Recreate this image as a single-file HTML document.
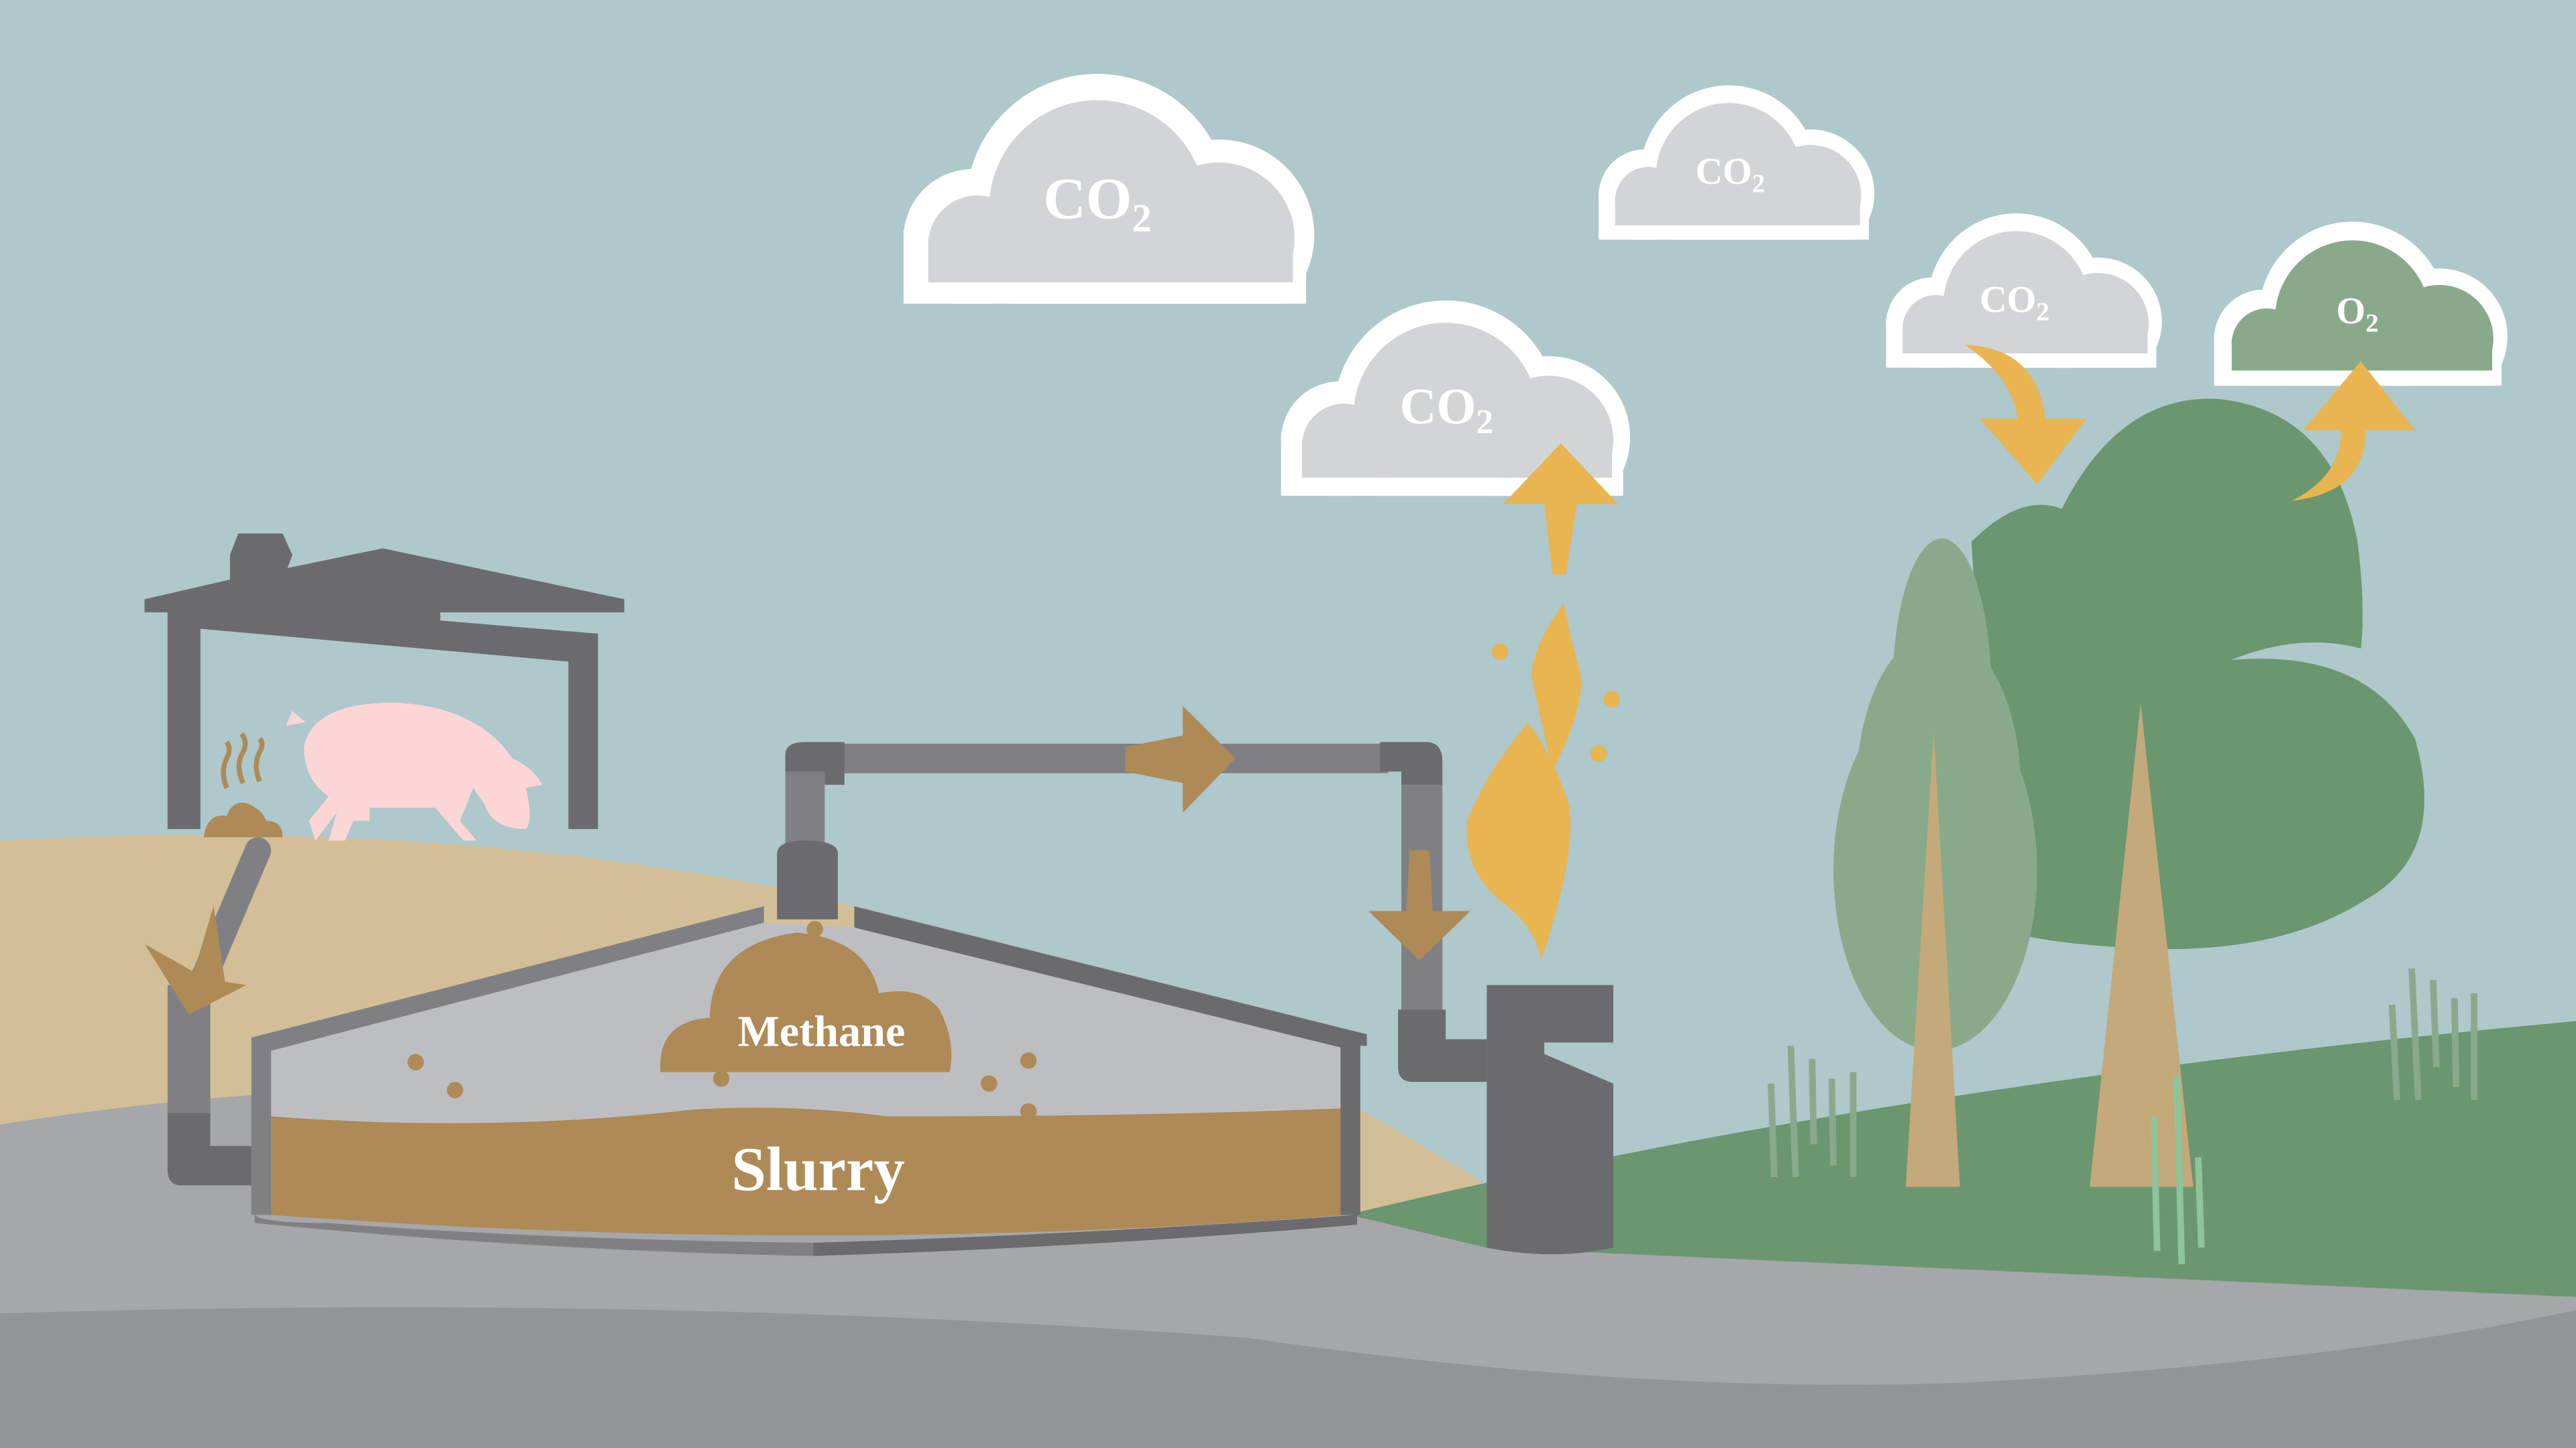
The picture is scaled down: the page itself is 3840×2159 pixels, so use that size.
<!DOCTYPE html>
<html><head><meta charset="utf-8">
<style>
html,body{margin:0;padding:0;background:#aec8cb;overflow:hidden}
svg{display:block}
.t{font-family:"Liberation Serif",serif;font-weight:bold;fill:#fff}
</style></head>
<body>
<svg width="3840" height="2159" viewBox="0 0 1568 882" preserveAspectRatio="none" xmlns="http://www.w3.org/2000/svg">
<defs>
<clipPath id="cc"><rect x="-10" y="-10" width="270" height="150"/></clipPath>
<clipPath id="ci"><rect x="0" y="0" width="250" height="127"/></clipPath>
<symbol id="cl" viewBox="0 0 250 140" overflow="visible">
 <g clip-path="url(#cc)" fill="#fff">
  <circle cx="42" cy="100" r="42"/><circle cx="118" cy="80" r="80"/><circle cx="192" cy="98" r="58"/>
  <rect x="0" y="95" width="245" height="45"/>
 </g>
 <g fill="currentColor" clip-path="url(#ci)">
  <circle cx="45" cy="104" r="30"/><circle cx="118" cy="82" r="66"/><circle cx="192" cy="100" r="46"/>
  <rect x="15" y="100" width="222" height="28"/>
 </g>
</symbol>
</defs>
<rect width="1568" height="882" fill="#aec8cb"/>
<path d="M0 512 Q250 498 470 540 Q700 590 910 725 L910 882 L0 882Z" fill="#d2bf98"/>
<path d="M820 740 Q1150 660 1568 622 L1568 882 L820 882Z" fill="#6a9670"/>
<path d="M0 685 Q250 645 500 675 L830 742 L905 760 L1568 790 L1568 882 L0 882Z" fill="#a6a7ab"/>
<path d="M0 800 Q400 788 760 815 Q1000 850 1200 842 Q1420 830 1568 798 L1568 882 L0 882Z" fill="#939498"/>

<use href="#cl" x="548" y="45" width="254" height="140" style="color:#d3d4d6"/>
<use href="#cl" x="972" y="52" width="170" height="94" style="color:#d3d4d6"/>
<use href="#cl" x="776" y="183" width="220" height="119" style="color:#d3d4d6"/>
<use href="#cl" x="1146" y="130" width="172" height="94" style="color:#d3d4d6"/>
<use href="#cl" x="1346" y="135" width="182" height="100" style="color:#89aa8a"/>
<text class="t" x="635" y="133" font-size="36">CO<tspan font-size="24" dy="8">2</tspan></text>
<text class="t" x="1032" y="112" font-size="23">CO<tspan font-size="16" dy="5">2</tspan></text>
<text class="t" x="852" y="258" font-size="31">CO<tspan font-size="21" dy="6">2</tspan></text>
<text class="t" x="1205" y="190" font-size="23">CO<tspan font-size="16" dy="5">2</tspan></text>
<text class="t" x="1422" y="197" font-size="23">O<tspan font-size="16" dy="5">2</tspan></text>

<path d="M1200 330 Q1230 300 1255 310 Q1290 240 1350 243 Q1420 250 1435 330 Q1440 370 1437 395 Q1400 385 1358 402 Q1440 395 1470 450 Q1490 520 1440 548 Q1390 580 1310 578 Q1240 575 1215 565 Z" fill="#6a9670"/>
<ellipse cx="1182" cy="420" rx="30" ry="92" fill="#89aa8a"/>
<ellipse cx="1180" cy="480" rx="50" ry="95" fill="#89aa8a"/>
<ellipse cx="1178" cy="530" rx="62" ry="110" fill="#89aa8a"/>
<ellipse cx="1178" cy="550" rx="50" ry="90" fill="#89aa8a"/>
<polygon points="1160,723 1177,445 1193,723" fill="#c4a97a"/>
<polygon points="1272,723 1303,428 1335,723" fill="#c4a97a"/>
<g stroke="#89aa8a" stroke-width="4">
<line x1="1078" y1="660" x2="1080" y2="717"/><line x1="1090" y1="637" x2="1093" y2="717"/><line x1="1103" y1="645" x2="1104" y2="697"/><line x1="1115" y1="657" x2="1116" y2="710"/><line x1="1128" y1="653" x2="1128" y2="717"/>
<line x1="1456" y1="612" x2="1459" y2="670"/><line x1="1468" y1="590" x2="1472" y2="670"/><line x1="1481" y1="597" x2="1483" y2="650"/><line x1="1494" y1="608" x2="1495" y2="662"/><line x1="1506" y1="605" x2="1506" y2="670"/>
</g>
<g stroke="#8fc499" stroke-width="4">
<line x1="1311" y1="680" x2="1313" y2="762"/><line x1="1325" y1="655" x2="1328" y2="770"/><line x1="1338" y1="705" x2="1340" y2="760"/>
</g>

<path d="M1196 210 Q1240 212 1245 255 L1270 255 L1240 295 L1205 255 L1228 255 Q1225 230 1196 210Z" fill="#e8b551"/>
<path d="M1395 305 Q1440 300 1440 262 L1470 262 L1437 220 L1402 262 L1425 262 Q1425 290 1395 305Z" fill="#e8b551"/>

<polygon points="88,365 140,353 140,338 145,325 172,325 178,338 175,346 233,334 380,365 380,373 268,373 268,378 364,386 364,505 346,505 346,403 122,383 122,505 102,505 102,373 88,373" fill="#6b6b6f"/>
<g fill="#fcd5d6">
<path d="M185 455 Q190 428 240 428 Q290 430 312 462 Q325 468 330 478 L320 480 Q325 500 320 505 Q300 505 295 490 L288 480 L280 500 L290 512 L282 512 L265 492 L225 492 L225 500 L215 500 L210 512 L200 512 L205 495 L192 512 L188 500 L200 485 Q185 475 185 455Z"/>
<path d="M178 433 L186 440 L174 442Z"/>
</g>
<path d="M124 510 Q126 495 138 497 Q142 486 152 490 Q160 494 162 500 Q172 500 172 510Z" fill="#ae8a57"/>
<g stroke="#ae8a57" stroke-width="3" fill="none">
<path d="M138 480 Q134 470 138 462 Q141 456 138 452"/>
<path d="M148 477 Q143 466 148 458 Q151 452 147 447"/>
<path d="M158 476 Q154 466 158 458 Q161 453 158 450"/>
</g>

<path d="M157 518 L118 610" stroke="#808084" stroke-width="16" stroke-linecap="round"/>
<rect x="102" y="600" width="26" height="80" fill="#808084"/>
<path d="M102 678 L128 678 L128 698 L160 698 L160 722 L110 722 Q102 722 102 712Z" fill="#6b6b6f"/>
<polygon points="88,575 118,592 130,552 137,598 150,600 115,618" fill="#ae8a57"/>

<polygon points="165,636 465,562 520,565 820,638 820,740 165,740" fill="#bdbec1"/>
<path d="M165 680 Q300 690 420 676 Q480 672 540 680 Q700 680 820 675 L820 740 Q500 765 165 740Z" fill="#ae8a57"/>
<path d="M153 632 L465 552 L465 562 L165 640 L165 740 L153 740Z" fill="#808084"/>
<path d="M520 552 L832 630 L832 637 L828 637 L828 740 L816 740 L816 638 L520 565Z" fill="#6b6b6f"/>
<path d="M155 740 Q160 745 200 745 Q330 755 495 757 L495 765 Q330 762 155 745Z" fill="#808084"/>
<path d="M495 757 Q660 752 826 740 L826 746 Q660 760 495 765Z" fill="#6b6b6f"/>
<path d="M402 653 Q400 622 432 620 Q433 575 485 568 Q528 572 535 605 Q560 600 572 615 Q582 635 578 653Z" fill="#ae8a57"/>
<text class="t" x="500" y="637" font-size="27" text-anchor="middle">Methane</text>
<text class="t" x="498" y="725" font-size="38" text-anchor="middle">Slurry</text>
<g fill="#ae8a57">
<circle cx="253" cy="647" r="5"/><circle cx="277" cy="664" r="5"/><circle cx="439" cy="657" r="5"/><circle cx="602" cy="660" r="5"/><circle cx="626" cy="646" r="5"/><circle cx="626" cy="677" r="5"/><circle cx="496" cy="566" r="5"/>
</g>

<rect x="478" y="470" width="24" height="50" fill="#808084"/>
<path d="M473 520 Q473 512 490 512 Q510 512 510 520 L510 560 L473 560Z" fill="#6b6b6f"/>
<rect x="500" y="453" width="345" height="18" fill="#808084"/>
<path d="M478 470 L478 460 Q478 452 490 452 L514 452 L514 478 L502 478 L502 470Z" fill="#6b6b6f"/>
<path d="M840 452 L868 452 Q878 452 878 464 L878 478 L853 478 L853 470 L840 470Z" fill="#6b6b6f"/>
<rect x="853" y="478" width="25" height="140" fill="#808084"/>
<path d="M851 615 L880 615 L880 633 L905 633 L905 659 L860 659 Q851 659 851 650Z" fill="#6b6b6f"/>
<polygon points="685,455 720,448 720,430 752,462 720,495 720,477 685,470" fill="#ae8a57"/>
<polygon points="858,518 870,518 872,555 895,555 864,585 833,555 856,555" fill="#ae8a57"/>

<path d="M905 600 L982 600 L982 635 L940 635 L940 642 L982 660 L982 760 Q945 768 905 760Z" fill="#6b6b6f"/>
<path d="M938 585 Q960 520 955 490 Q945 460 930 440 Q905 470 893 500 Q890 530 915 550 Q935 565 938 585Z" fill="#e8b551"/>
<path d="M945 470 Q965 430 962 410 Q955 385 952 367 Q935 390 932 410 Q936 430 945 470Z" fill="#e8b551"/>
<circle cx="913" cy="397" r="5" fill="#e8b551"/><circle cx="981" cy="426" r="5" fill="#e8b551"/><circle cx="973" cy="459" r="5" fill="#e8b551"/>
<polygon points="945,350 940,307 915,307 950,270 985,307 960,307 953,350" fill="#e8b551"/>
</svg>
</body></html>
